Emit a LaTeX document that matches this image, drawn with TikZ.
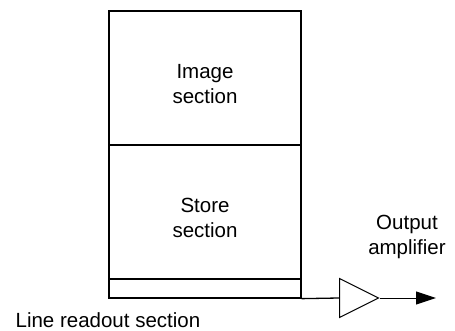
\documentclass[tikz,border=0pt]{standalone}
\usepackage{fontspec}
\setmainfont{Liberation Sans}
\usetikzlibrary{arrows.meta,shapes.geometric}
\tikzset{
	section/.style={draw,line width=1.3pt,minimum width=192pt,inner sep=0pt},
	lbl/.style={font=\fontsize{20.5}{25}\selectfont,align=center,inner sep=0pt},
}
\begin{document}
\begin{tikzpicture}[x=1pt,y=-1pt,line width=1.3pt]
	\useasboundingbox (0,0) rectangle (455,331);
	% sections of the sensor
	\node[section,minimum height=134pt] (img) at (205,78) {};
	\node[section,minimum height=134pt] (store) at (205,212) {};
	\node[section,minimum height=19pt] (readout) at (205,288.5) {};
	\node[lbl] (imglbl) at ([yshift=-6pt]img.center) {Image\\section};
	\node[lbl] (storelbl) at ([yshift=-6pt]store.center) {Store\\section};
	% amplifier
	\node[draw,isosceles triangle,isosceles triangle stretches,minimum width=39pt,minimum height=39pt,inner sep=0pt,line width=1pt,anchor=west] (amp) at (339,298) {};
	\coordinate (out) at (436,298);
	\draw (readout.south east) -- (amp.west);
	\draw[-{Triangle[length=20pt,width=13pt]},line width=1pt] (amp.east) -- (out);
	\node[lbl] (amplbl) at (407,237) {Output\\amplifier};
	\node[lbl,anchor=base west] (readlbl) at (15,327) {Line readout section};
\end{tikzpicture}
\end{document}
